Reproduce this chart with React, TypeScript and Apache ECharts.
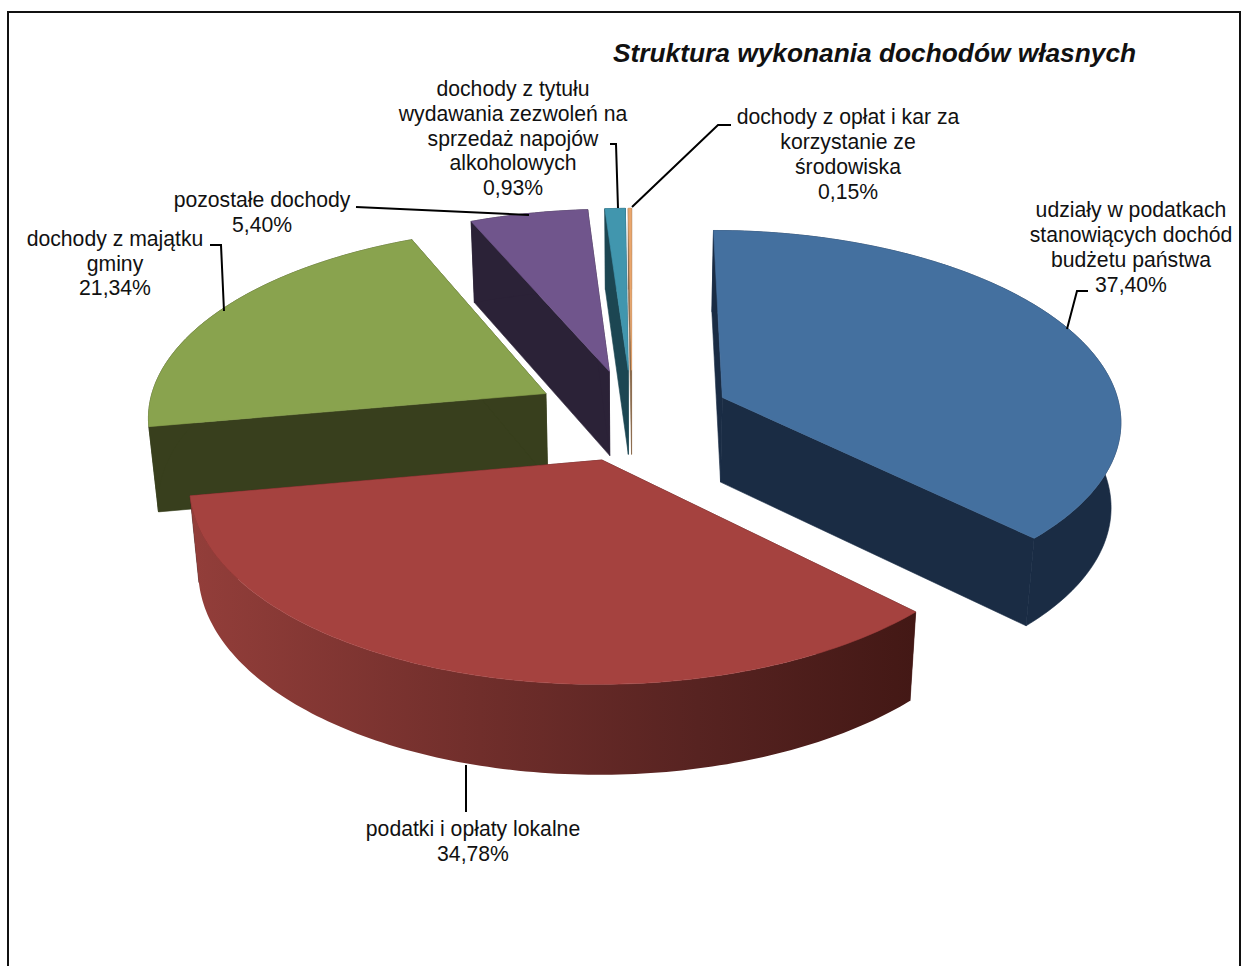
import React, { useEffect, useRef } from "react";
import * as echarts from "echarts";

const titleText = "Struktura wykonania dochodów własnych";
const categories = [
  "udziały w podatkach\nstanowiących dochód\nbudżetu państwa",
  "podatki i opłaty lokalne",
  "dochody z majątku\ngminy",
  "pozostałe dochody",
  "dochody z tytułu\nwydawania zezwoleń na\nsprzedaż napojów\nalkoholowych",
  "dochody z opłat i kar za\nkorzystanie ze\nśrodowiska",
];
const values = [37.4, 34.78, 21.34, 5.4, 0.93, 0.15];
const topColors = ["#44709f", "#a5423f", "#89a34e", "#70558c", "#4196ae", "#e9a66d"];
const sideColors = ["#1a2c44", "#431815", "#383f1d", "#2b2237", "#1c4652", "#8a6a4c"];
const paintOrder = [3, 4, 5, 2, 0, 1];

const labelCentres = [
  [1131, 247], [473, 841], [115, 263], [262, 212], [513, 138], [848, 154],
];
const leaderLines = [
  [[1088, 291], [1077, 291], [1067, 329]],
  [[466, 765], [466, 812]],
  [[210, 245], [221, 245], [224, 311]],
  [[356, 207], [529, 215]],
  [[610, 144], [616, 144], [618, 208]],
  [[632, 207], [718, 125], [731, 125]],
];

// projection of the exploded 3D pie
const CX = 632, CY = 415, RX = 399, RY = 189, PERSP = 0.11, EXPLODE = 0.248;
const BOTTOM_SCALE_X = 0.98, BOTTOM_SCALE_Y = 1.02, DEPTH = 85;
const total = values.reduce((a, b) => a + b, 0);
const rad = (d: number) => (d * Math.PI) / 180;

function project(X: number, Y: number, bottom: boolean): number[] {
  const s = 1 / (1 - PERSP * Y);
  const x = s * RX * X;
  const y = s * RY * Y;
  return bottom
    ? [CX + x * BOTTOM_SCALE_X, CY + DEPTH + y * BOTTOM_SCALE_Y]
    : [CX + x, CY + y];
}

function sliceElements(index: number) {
  const before = values.slice(0, index).reduce((a, b) => a + b, 0);
  const a0 = (before / total) * 360;
  const a1 = ((before + values[index]) / total) * 360;
  const mid = rad((a0 + a1) / 2);
  const ex = EXPLODE * Math.sin(mid);
  const ey = -EXPLODE * Math.cos(mid) * 0.98;
  const arcAngles: number[] = [];
  const n = Math.max(2, Math.ceil(a1 - a0));
  for (let i = 0; i <= n; i++) arcAngles.push(a0 + ((a1 - a0) * i) / n);
  const rim = (b: boolean) =>
    arcAngles.map((d) => project(ex + Math.sin(rad(d)), ey - Math.cos(rad(d)), b));
  const topRim = rim(false);
  const botRim = rim(true);
  const apexTop = project(ex, ey, false);
  const apexBot = project(ex, ey, true);
  const base = paintOrder.indexOf(index) * 10;
  const side = sideColors[index];
  const wallFill: any =
    index === 1
      ? new echarts.graphic.LinearGradient(0, 0, 1, 0, [
          { offset: 0, color: "#933e3a" },
          { offset: 0.4, color: "#702e2b" },
          { offset: 0.7, color: "#572321" },
          { offset: 1, color: "#431815" },
        ])
      : side;
  const poly = (points: number[][], fill: any, z2: number) => ({
    type: "polygon",
    z2,
    silent: true,
    shape: { points },
    style: typeof fill === "string"
      ? { fill, stroke: fill, lineWidth: 0.6 }
      : { fill, stroke: "none" },
  });
  return [
    poly([apexTop, topRim[0], botRim[0], apexBot], side, base),
    poly([apexTop, topRim[n], botRim[n], apexBot], side, base + 1),
    poly([...topRim, ...botRim.slice().reverse()], wallFill, base + 2),
    poly([apexTop, ...topRim], topColors[index], base + 3),
  ];
}

function pct(v: number) {
  return v.toFixed(2).replace(".", ",") + "%";
}

export default function App() {
  const ref = useRef<HTMLDivElement>(null);
  useEffect(() => {
    document.body.style.margin = "0";
    document.body.style.background = "#fff";
    const chart = echarts.init(ref.current!, null, { renderer: "svg" });
    const font = "Liberation Sans";
    chart.setOption({
      animation: false,
      backgroundColor: "#fff",
      title: {
        text: titleText,
        left: 613,
        top: 40,
        padding: 0,
        textStyle: { fontFamily: font, fontSize: 26.3, fontWeight: "bold", fontStyle: "italic", color: "#111" },
      },
      graphic: [
        {
          type: "rect",
          shape: { x: 8, y: 12, width: 1232, height: 980 },
          style: { fill: "none", stroke: "#111", lineWidth: 2 },
          silent: true,
          z: 0,
        },
        ...leaderLines.map((pts) => ({
          type: "polyline",
          shape: { points: pts },
          style: { fill: "none", stroke: "#000", lineWidth: 2 },
          silent: true,
          z: 10,
        })),
        ...categories.map((c, i) => ({
          type: "text",
          x: labelCentres[i][0],
          y: labelCentres[i][1],
          silent: true,
          z: 10,
          style: {
            text: c + "\n" + pct(values[i]),
            align: "center",
            verticalAlign: "middle",
            fontFamily: font,
            fontSize: 21.2,
            lineHeight: 24.7,
            fill: "#111",
          },
        })),
      ],
      series: [
        {
          type: "custom",
          coordinateSystem: "none",
          silent: true,
          clip: false,
          z: 5,
          data: values.map((v, i) => [i, v]),
          renderItem: (_params: any, api: any) => ({
            type: "group",
            children: sliceElements(api.value(0)),
          }),
        },
      ],
    });
    return () => chart.dispose();
  }, []);
  return (
    <div
      ref={ref}
      style={{ position: "absolute", left: 0, top: 0, width: 1243, height: 966, overflow: "hidden" }}
    />
  );
}
